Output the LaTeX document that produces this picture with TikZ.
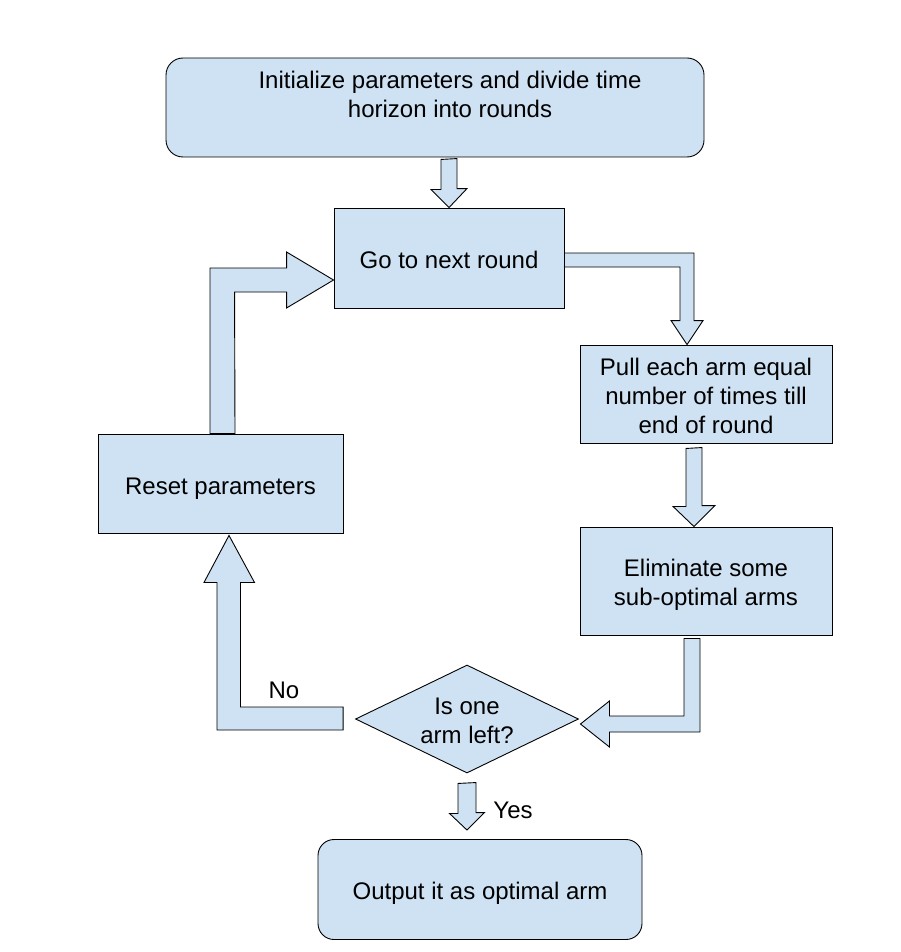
\documentclass[tikz,border=0pt]{standalone}
\usepackage{fontspec}
\setmainfont{Liberation Sans}
\usetikzlibrary{shapes.geometric,calc}
\definecolor{boxblue}{HTML}{CFE2F3}
\newcommand{\tpush}[1]{\rule{0pt}{#1}}
\begin{document}
\begin{tikzpicture}[x=1pt,y=-1pt,
  every node/.style={font=\fontsize{24}{29}\selectfont},
  box/.style={draw=black, fill=boxblue, line width=0.9pt, inner sep=0pt, align=center},
  roundbox/.style={box, rounded corners=17pt},
  decision/.style={draw=black, fill=boxblue, line width=0.9pt, diamond, inner sep=0pt},
  barrow/.style={draw=black, fill=boxblue, line width=0.9pt, line join=miter},
  lbl/.style={inner sep=0pt}]
\useasboundingbox (0,0) rectangle (901,952);

% nodes
\node[roundbox, minimum width=538pt, minimum height=99pt,
  label={[align=center, xshift=15pt]center:{\tpush{19.5pt}Initialize parameters and divide time\\horizon into rounds\\\mbox{}}}]
  (init) at (435,107.5) {};
\node[box, minimum width=230pt, minimum height=100pt] (go) at (449,258) {\tpush{21.5pt}Go to next round};
\node[box, minimum width=252pt, minimum height=98pt] (pull) at (706,394)
  {\tpush{21pt}Pull each arm equal\\number of times till\\end of round};
\node[box, minimum width=252pt, minimum height=108pt] (elim) at (706,581)
  {\tpush{25.5pt}Eliminate some\\sub-optimal arms};
\node[box, minimum width=245pt, minimum height=99pt] (reset) at (220.5,483.5) {\tpush{27.5pt}Reset parameters};
\node[decision, minimum width=223pt, minimum height=108pt,
  label={[align=center, inner sep=0pt]center:{\tpush{19.5pt}Is one\\arm left?}}] (dec) at (467,719) {};
\node[roundbox, minimum width=324pt, minimum height=100pt, rounded corners=16pt] (out) at (480,889.5)
  {\tpush{25.5pt}Output it as optimal arm};

% labels
\node[lbl] (no) at (284,690) {No};
\node[lbl] (yes) at (513,810) {Yes};

% block arrows
% init -> go
\draw[barrow] ($(init.south -| go.north)+(-8,2)$) -- ++(0,30) -- ++(-10,0) -- (go.north)
  -- ++(18,-19) -- ++(-10,0) -- ++(0,-30) -- cycle;
% reset -> go
\draw[barrow] ($(reset.north)+(-10.5,0)$) |- ($(go.west)+(-47,10)$) -- ++(0,-16)
  -- ($(go.west)+(0,22)$) -- ++(-47,28) -- ++(0,-16) -- ++(-52,0)
  -- ($(reset.north)+(14.5,0)$) -- cycle;
% go -> pull
\draw[barrow] ($(go.east)+(0,-5)$) -| ($(pull.north)+(-12,-24)$) -- ++(9,0)
  -- ($(pull.north)+(-19,0)$) -- ++(-16,-24) -- ++(9,0) |- ($(go.east)+(0,9)$) -- cycle;
% pull -> elim
\draw[barrow] ($(pull.south)+(-20,5)$) -- ++(0,58) -- ++(-13,0) -- ($(elim.north)+(-12,0)$)
  -- ++(21,-21) -- ++(-13,0) -- ++(0,-58) -- cycle;
% elim -> dec
\draw[barrow] ($(elim.south)+(-22,3)$) |- ($(dec.east)+(30.5,-3)$) -- ++(0,-15) -- ($(dec.east)+(1.5,5)$)
  -- ++(29,23) -- ++(0,-15) -| ($(elim.south)+(-6,3)$) -- cycle;
% dec -> reset (No)
\draw[barrow] ($(dec.west)+(-12,-12)$) -| ($(reset.south)+(20,49)$) -- ++(14,0)
  -- ($(reset.south)+(8.5,2)$) -- ++(-25,47) -- ++(13,0) |- ($(dec.west)+(-12,11)$) -- cycle;
% dec -> out (Yes)
\draw[barrow] ($(dec.south)+(-9,10)$) -- ++(0,30) -- ++(-8.5,0) -- ($(out.north -| dec.south)+(0,-9)$)
  -- ++(17.5,-17.5) -- ++(-8.5,0) -- ++(0,-30) -- cycle;
\end{tikzpicture}
\end{document}
